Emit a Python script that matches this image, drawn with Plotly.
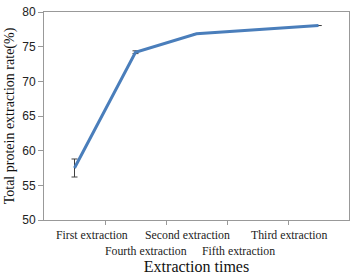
import plotly.graph_objects as go

categories = ["First extraction", "Second extraction", "Third extraction", "Fourth extraction", "Fifth extraction"]
values = [57.5, 74.2, 76.85, 77.45, 78.05]
errors = [1.3, 0.2, 0.0, 0.0, 0.0]
# label positions along the category axis (as drawn in the original)
label_pos = [1.28, 2.85, 4.52, 2.17, 3.69]
label_row = [0, 0, 0, 1, 1]
yticks = [50, 55, 60, 65, 70, 75, 80]

idx = list(range(1, len(categories) + 1))

fig = go.Figure()
fig.add_trace(go.Scatter(
    x=idx, y=values, mode="lines",
    line=dict(color="#4A7EBB", width=3),
    error_y=dict(type="data", array=errors, visible=True, color="#404040", thickness=1, width=3),
    showlegend=False,
))

annotations = []
for name, p, r in zip(categories, label_pos, label_row):
    annotations.append(dict(
        x=p, xref="x", y=-0.072 - r * 0.077, yref="paper",
        text=name, showarrow=False, xanchor="center", yanchor="middle",
        font=dict(family="Liberation Serif", size=11.8, color="#222"),
    ))

fig.update_layout(
    width=355, height=275,
    margin=dict(l=44, r=5, t=7, b=55),
    paper_bgcolor="white", plot_bgcolor="white",
    annotations=annotations,
    xaxis=dict(
        range=[0.5, 5.5], tickvals=[1.5, 2.5, 3.5, 4.5], ticktext=["", "", "", ""],
        ticks="outside", ticklen=4, tickcolor="#999", showgrid=False, zeroline=False,
        showline=True, linecolor="#999", linewidth=1, mirror=True,
        title=dict(text="Extraction times", font=dict(family="Liberation Serif", size=16, color="#111"), standoff=34),
    ),
    yaxis=dict(
        range=[50, 80], tickvals=yticks, ticks="outside", ticklen=5, tickcolor="#999",
        showgrid=False, zeroline=False, showline=True, linecolor="#999", linewidth=1, mirror=True,
        tickfont=dict(family="Liberation Sans", size=12, color="#222"),
        title=dict(text="Total protein extraction rate(%)", font=dict(family="Liberation Serif", size=14, color="#111"), standoff=4),
    ),
)

fig.write_html("out.html")
